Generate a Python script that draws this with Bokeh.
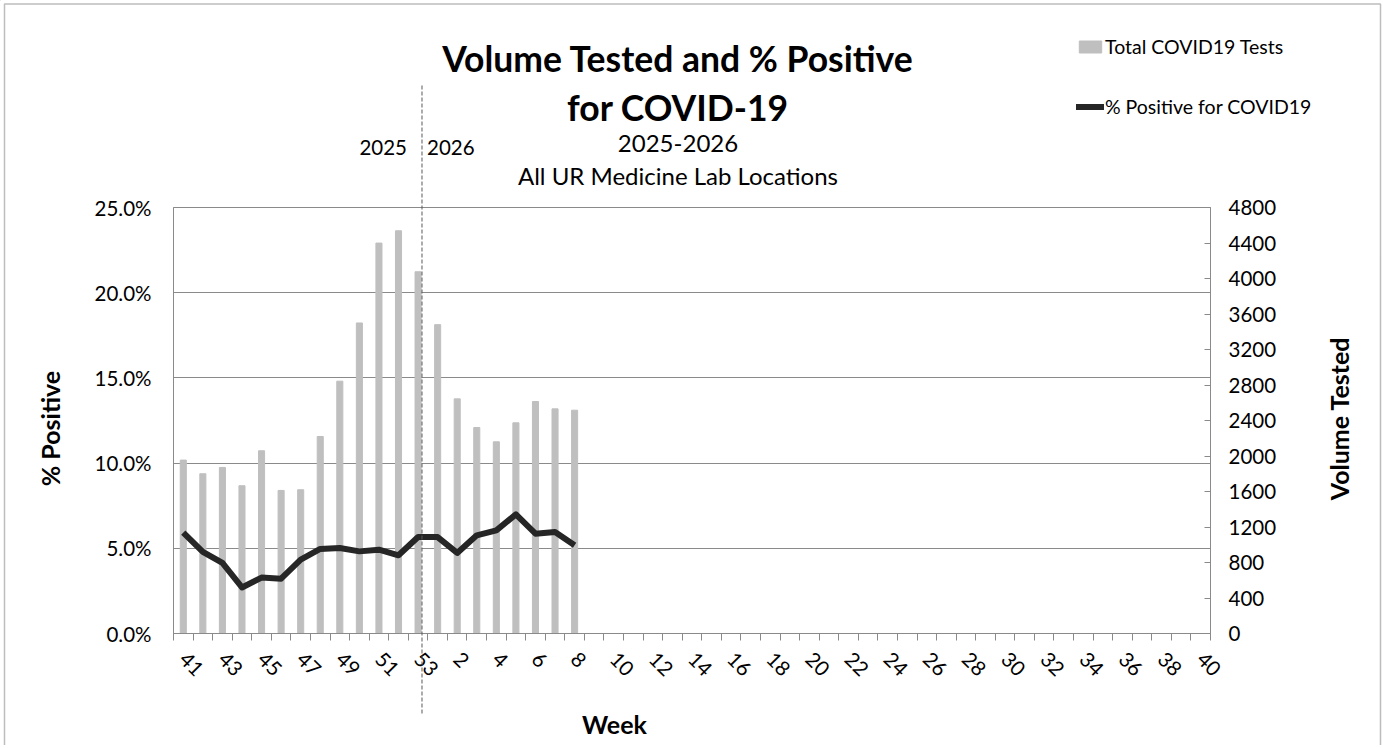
import math
from bokeh.plotting import figure
from bokeh.models import (Range1d, LinearAxis, FixedTicker, NumeralTickFormatter,
                          Label, Legend, LegendItem)
from bokeh.embed import file_html
from bokeh.resources import INLINE

# ---------------- data ----------------
weeks = list(range(41, 54)) + list(range(1, 41))
tests = [1954, 1800, 1871, 1665, 2059, 1612, 1620, 2220, 2843, 3499, 4399,
         4538, 4076, 3480, 2644, 2321, 2160, 2374, 2614, 2531, 2516]
pct_positive = [0.0592, 0.0479, 0.0414, 0.0270, 0.0328, 0.0322, 0.0434, 0.0496,
                0.0502, 0.0482, 0.0492, 0.0459, 0.0566, 0.0566, 0.0473, 0.0576,
                0.0605, 0.0699, 0.0586, 0.0596, 0.0518]
pct_ticks = [0, 0.05, 0.10, 0.15, 0.20, 0.25]
vol_ticks = list(range(0, 4801, 400))
year_split_week = 53

FONT = "Lato"
AX = "#8a8a8a"
W, H = 1383, 745
FL, FR, FT, FB = 173, 1210, 207, 633   # plot-area edges on the page

# ---------------- main chart ----------------
x_rng = Range1d(-0.5, len(weeks) - 0.5)
p = figure(width=W, height=H, output_backend="svg", toolbar_location=None,
           x_range=x_rng, y_range=Range1d(0, 0.25),
           min_border_left=FL, min_border_right=W - FR, min_border_top=FT,
           min_border_bottom=H - FB, background_fill_color="white",
           border_fill_color="white", outline_line_color=AX)
p.extra_y_ranges = {"vol": Range1d(0, 4800)}

idx = list(range(len(weeks)))
lab_idx = idx[::2]
xa = p.xaxis[0]
xa.ticker = FixedTicker(ticks=lab_idx, minor_ticks=[i - 0.5 for i in range(len(weeks) + 1)])
xa.major_label_overrides = {i: str(weeks[i]) for i in lab_idx}
xa.major_label_orientation = -math.pi / 4
xa.major_tick_in = 0
xa.major_tick_out = 0
xa.minor_tick_in = 0
xa.minor_tick_out = 7
xa.minor_tick_line_color = AX
xa.axis_line_color = AX
xa.major_label_text_font = FONT
xa.major_label_text_font_size = "20.5px"
xa.major_label_text_color = "black"
xa.major_label_standoff = 15

ya = p.yaxis[0]
ya.ticker = FixedTicker(ticks=pct_ticks)
ya.formatter = NumeralTickFormatter(format="0.0%")
ya.major_tick_in = 0
ya.major_tick_out = 0
ya.minor_tick_line_color = None
ya.axis_line_color = AX
ya.major_label_text_font = FONT
ya.major_label_text_font_size = "20.5px"
ya.major_label_text_color = "black"
ya.major_label_standoff = 22

ra = LinearAxis(y_range_name="vol", ticker=FixedTicker(ticks=vol_ticks))
ra.major_tick_in = 6
ra.major_tick_out = 0
ra.major_tick_line_color = AX
ra.minor_tick_line_color = None
ra.axis_line_color = AX
ra.major_label_text_font = FONT
ra.major_label_text_font_size = "20.5px"
ra.major_label_text_color = "black"
ra.major_label_standoff = 18
p.add_layout(ra, "right")

p.xgrid.grid_line_color = None
p.ygrid.grid_line_color = AX

bar_color = "#bfbfbf"
line_color = "#262626"
p.vbar(x=idx[:len(tests)], top=tests, width=0.31, color=bar_color, y_range_name="vol")
p.line(x=idx[:len(pct_positive)], y=pct_positive, line_width=6,
       line_color=line_color, line_join="round")

# ---------------- overlay for texts outside the plot area ----------------
o = figure(width=W, height=H, output_backend="svg", toolbar_location=None,
           x_range=Range1d(0, W), y_range=Range1d(H, 0),
           x_axis_type=None, y_axis_type=None, min_border=0,
           min_border_left=0, min_border_right=0, min_border_top=0, min_border_bottom=0,
           background_fill_alpha=0, border_fill_alpha=0, outline_line_color=None)
o.styles = {"position": "absolute", "left": "0px", "top": "0px"}

# chart-area border (open at the bottom, as in the reference)
o.quad(left=[4], right=[1380], top=[3.5], bottom=[H + 20], fill_color=None,
       line_color="#bdbdbd", line_width=1.5)

# divider between 2025 and 2026, placed from the week axis scale
div_x = weeks.index(year_split_week) + 0.2
div_px = FL + (div_x - x_rng.start) / (x_rng.end - x_rng.start) * (FR - FL)
o.segment(x0=[div_px], y0=[85], x1=[div_px], y1=[715], line_dash="4 2",
          line_color="#595959", line_width=1)


def txt(t, x, y, size, bold=False, align="center", baseline="alphabetic", angle=0):
    o.add_layout(Label(x=x, y=y, text=t, text_align=align, text_baseline=baseline,
                       angle=angle, text_font=FONT, text_font_size=size,
                       text_color="black",
                       text_font_style="bold" if bold else "normal"))


txt("2025", div_px - 15, 147, "20.5px", align="right")
txt("2026", div_px + 5, 147, "20.5px", align="left")
txt("Volume Tested and % Positive", 677.5, 58, "35.5px", True)
txt("for COVID-19", 677.5, 107, "35.5px", True)
txt("2025-2026", 677.5, 143, "24px")
txt("All UR Medicine Lab Locations", 677.5, 175, "24px")
txt("Week", 614, 723, "25px", True, baseline="middle")
txt("% Positive", 49, 428, "25px", True, baseline="middle", angle=math.pi / 2)
txt("Volume Tested", 1338, 418, "25px", True, baseline="middle", angle=math.pi / 2)

# legend swatches (kept off-canvas; only their legend glyphs show)
lg_bar = o.vbar(x=[-500], top=[-500], bottom=[-501], width=1, color=bar_color)
lg_line = o.line(x=[-500, -499], y=[-500, -500], line_width=6, line_color=line_color,
                 line_cap="round")
legend = Legend(items=[LegendItem(label="Total COVID19 Tests", renderers=[lg_bar]),
                       LegendItem(label="% Positive for COVID19", renderers=[lg_line])],
                location=(1076, H - 118), label_text_font=FONT,
                label_text_font_size="19.5px", label_text_color="black",
                glyph_width=28, glyph_height=15,
                label_height=24, label_standoff=1, spacing=36, padding=0, margin=0,
                border_line_color=None, background_fill_alpha=0)
o.add_layout(legend, "center")

open("out.html", "w").write(file_html([p, o], INLINE))
